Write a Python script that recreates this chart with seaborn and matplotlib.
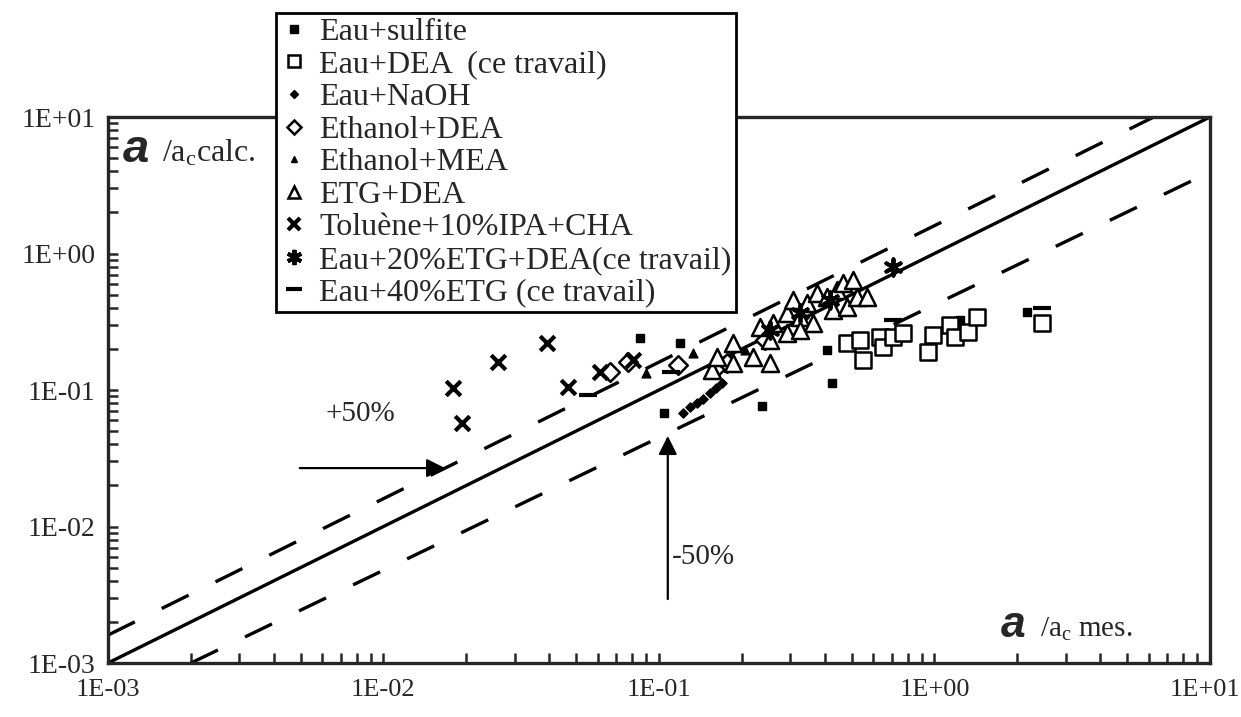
import numpy as np
import matplotlib
matplotlib.use("Agg")
import matplotlib.pyplot as plt
import matplotlib.transforms as mtransforms
import seaborn as sns
from matplotlib.lines import Line2D
from matplotlib.ticker import LogLocator, FuncFormatter, NullFormatter

sulfite_x = [0.085, 0.119, 0.104, 0.237, 0.407, 0.425, 1.24, 2.17]
sulfite_y = [0.240, 0.221, 0.068, 0.076, 0.196, 0.112, 0.326, 0.373]

dea_x = [0.481, 0.537, 0.549, 0.634, 0.650, 0.706, 0.769, 0.946, 0.989, 1.14, 1.19, 1.32, 1.43, 2.45]
dea_y = [0.221, 0.232, 0.166, 0.244, 0.207, 0.244, 0.262, 0.190, 0.253, 0.299, 0.244, 0.266, 0.343, 0.310]

naoh_x = [0.122, 0.130, 0.137, 0.145, 0.153, 0.161, 0.169]
naoh_y = [0.068, 0.075, 0.080, 0.086, 0.095, 0.1035, 0.112]

eth_dea_x = [0.0664, 0.077, 0.117, 0.163, 0.177, 0.243]
eth_dea_y = [0.136, 0.160, 0.152, 0.147, 0.158, 0.232]

eth_mea_x = [0.090, 0.133, 0.205]
eth_mea_y = [0.133, 0.187, 0.196]

etg_dea_x = [0.156, 0.163, 0.186, 0.186, 0.219, 0.253, 0.233, 0.259, 0.292, 0.306, 0.325, 0.344, 0.362,
             0.375, 0.407, 0.429, 0.443, 0.466, 0.481, 0.506, 0.524, 0.569, 0.253, 0.292, 0.325]
etg_dea_y = [0.140, 0.175, 0.158, 0.221, 0.175, 0.158, 0.290, 0.310, 0.366, 0.456, 0.343, 0.434, 0.310,
             0.514, 0.480, 0.385, 0.541, 0.608, 0.406, 0.640, 0.480, 0.480, 0.232, 0.262, 0.275]

toluene_x = [0.0179, 0.0193, 0.0261, 0.0393, 0.0468, 0.0611, 0.0805]
toluene_y = [0.1035, 0.0573, 0.160, 0.221, 0.105, 0.136, 0.166]

etg20_x = [0.253, 0.325, 0.418, 0.706]
etg20_y = [0.275, 0.366, 0.456, 0.797]

etg40_x = [0.0552, 0.111, 0.706, 2.45]
etg40_y = [0.092, 0.136, 0.326, 0.399]

# reference lines: y = x, +50 % and -50 %
diag_x = [1e-3, 10]
diag_y = [1e-3, 10]
upper_x = [1e-3, 6.25]
upper_y = [1.6e-3, 10]
lower_x = [2e-3, 10]
lower_y = [1e-3, 3.95]

decades = [1e-3, 1e-2, 1e-1, 1e0, 1e1]
decade_labels = ["1E-03", "1E-02", "1E-01", "1E+00", "1E+01"]

labels = ["Eau+sulfite", "Eau+DEA  (ce travail)", "Eau+NaOH", "Ethanol+DEA", "Ethanol+MEA",
          "ETG+DEA", "Toluène+10%IPA+CHA", "Eau+20%ETG+DEA(ce travail)", "Eau+40%ETG (ce travail)"]

sns.set_style("ticks")
plt.rcParams['font.family'] = ['Liberation Serif', 'DejaVu Serif']
plt.rcParams['mathtext.fontset'] = 'custom'
plt.rcParams['mathtext.rm'] = 'Liberation Serif'
plt.rcParams['mathtext.it'] = 'Liberation Serif:italic'

fig = plt.figure(figsize=(12.41, 7.17), dpi=100)
ax = fig.add_axes([0.087, 0.0753, 0.888, 0.7615])

# reference lines
sns.lineplot(x=diag_x, y=diag_y, color='black', linewidth=2.4, ax=ax)
sns.lineplot(x=upper_x, y=upper_y, color='black', linewidth=2.4, linestyle=(0, (9, 9)), ax=ax)
sns.lineplot(x=lower_x, y=lower_y, color='black', linewidth=2.4, linestyle=(0, (9, 9)), ax=ax)

# marker, size (points^2), filled, edge width, legend marker size
styles = [
    ('s', 40, True, 1.0, 6),
    ('s', 120, False, 1.8, 8),
    ('D', 22, True, 1.0, 4.5),
    ('D', 90, False, 1.8, 7),
    ('^', 40, True, 1.0, 5),
    ('^', 150, False, 1.8, 9),
    ('x', 110, None, 3.0, 9),
    ((6, 2, 0), 140, None, 2.8, 11),
    ('_', 180, None, 3.0, 11),
]
series = [(sulfite_x, sulfite_y), (dea_x, dea_y), (naoh_x, naoh_y), (eth_dea_x, eth_dea_y),
          (eth_mea_x, eth_mea_y), (etg_dea_x, etg_dea_y), (toluene_x, toluene_y),
          (etg20_x, etg20_y), (etg40_x, etg40_y)]

handles = []
for (xs, ys), (m, s, filled, lw, lms) in zip(series, styles):
    sns.scatterplot(x=xs, y=ys, marker=m, s=s, color='black', linewidth=lw, ax=ax, zorder=3)
    pts = ax.collections[-1]
    if filled is True:
        pts.set_facecolor('black')
        pts.set_edgecolor('black')
    elif filled is False:
        pts.set_facecolor('white')
        pts.set_edgecolor('black')
    if filled is None:
        handles.append(Line2D([], [], linestyle='none', marker=m, markersize=lms,
                              color='black', markeredgewidth=lw))
    else:
        handles.append(Line2D([], [], linestyle='none', marker=m, markersize=lms,
                              markerfacecolor='black' if filled else 'white',
                              markeredgecolor='black', markeredgewidth=lw))

ax.set_xscale('log')
ax.set_yscale('log')
ax.set_xlim(1e-3, 10)
ax.set_ylim(1e-3, 10)

fmt = FuncFormatter(lambda v, p: "1E{:+03d}".format(int(round(np.log10(v)))))
for axis in (ax.xaxis, ax.yaxis):
    axis.set_major_locator(LogLocator(base=10, numticks=10))
    axis.set_minor_locator(LogLocator(base=10, subs=np.arange(2, 10), numticks=20))
    axis.set_major_formatter(fmt)
    axis.set_minor_formatter(NullFormatter())
ax.tick_params(which='both', direction='in', length=7, width=1.8, labelsize=20)
ax.tick_params(axis='x', labelbottom=False)
ax.tick_params(axis='y', pad=9)
for sp in ax.spines.values():
    sp.set_linewidth(2.4)
    sp.set_visible(True)
ax.set_xlabel('')
ax.set_ylabel('')

# x tick labels drawn as texts so the last one stays inside the picture
xlab_trans = ax.get_xaxis_transform()
for i, (v, lab) in enumerate(zip(decades, decade_labels)):
    tr = xlab_trans
    if i == len(decades) - 1:
        tr = xlab_trans + mtransforms.ScaledTranslation(-0.05, 0, fig.dpi_scale_trans)
    ax.text(v, -0.03, lab, transform=tr, fontsize=19, ha='center', va='top')

# axis captions inside the plot
ax.text(0.013, 0.918, 'a', transform=ax.transAxes, fontsize=34, fontweight='bold',
        family=['Liberation Sans'], fontstyle='italic', va='baseline')
ax.text(0.049, 0.918, r'/a$_\mathrm{c}$calc.', transform=ax.transAxes, fontsize=23, va='baseline')
ax.text(0.81, 0.048, 'a', transform=ax.transAxes, fontsize=32, fontweight='bold',
        family=['Liberation Sans'], fontstyle='italic', va='baseline')
ax.text(0.846, 0.048, r'/a$_\mathrm{c}$ mes.', transform=ax.transAxes, fontsize=21, va='baseline')

# +50 % / -50 % annotations
ax.annotate('', xy=(0.3085, 0.357), xytext=(0.1715, 0.357), xycoords='axes fraction',
            arrowprops=dict(arrowstyle='-|>', color='black', lw=1.6, mutation_scale=28))
ax.text(0.229, 0.456, '+50%', transform=ax.transAxes, fontsize=21, ha='center', va='center')
ax.annotate('', xy=(0.508, 0.421), xytext=(0.508, 0.112), xycoords='axes fraction',
            arrowprops=dict(arrowstyle='-|>', color='black', lw=1.6, mutation_scale=28))
ax.text(0.512, 0.194, '-50%', transform=ax.transAxes, fontsize=21, ha='left', va='center')

leg = fig.legend(handles, labels, loc='upper left', bbox_to_anchor=(0.2224, 0.982),
                 frameon=True, fancybox=False, edgecolor='black', facecolor='white', framealpha=1,
                 fontsize=23, handlelength=0.8, handletextpad=0.4, labelspacing=0.1,
                 borderpad=0.15, borderaxespad=0)
leg.get_frame().set_linewidth(2.0)
leg.set_zorder(10)

fig.savefig('out.png', dpi=100)
